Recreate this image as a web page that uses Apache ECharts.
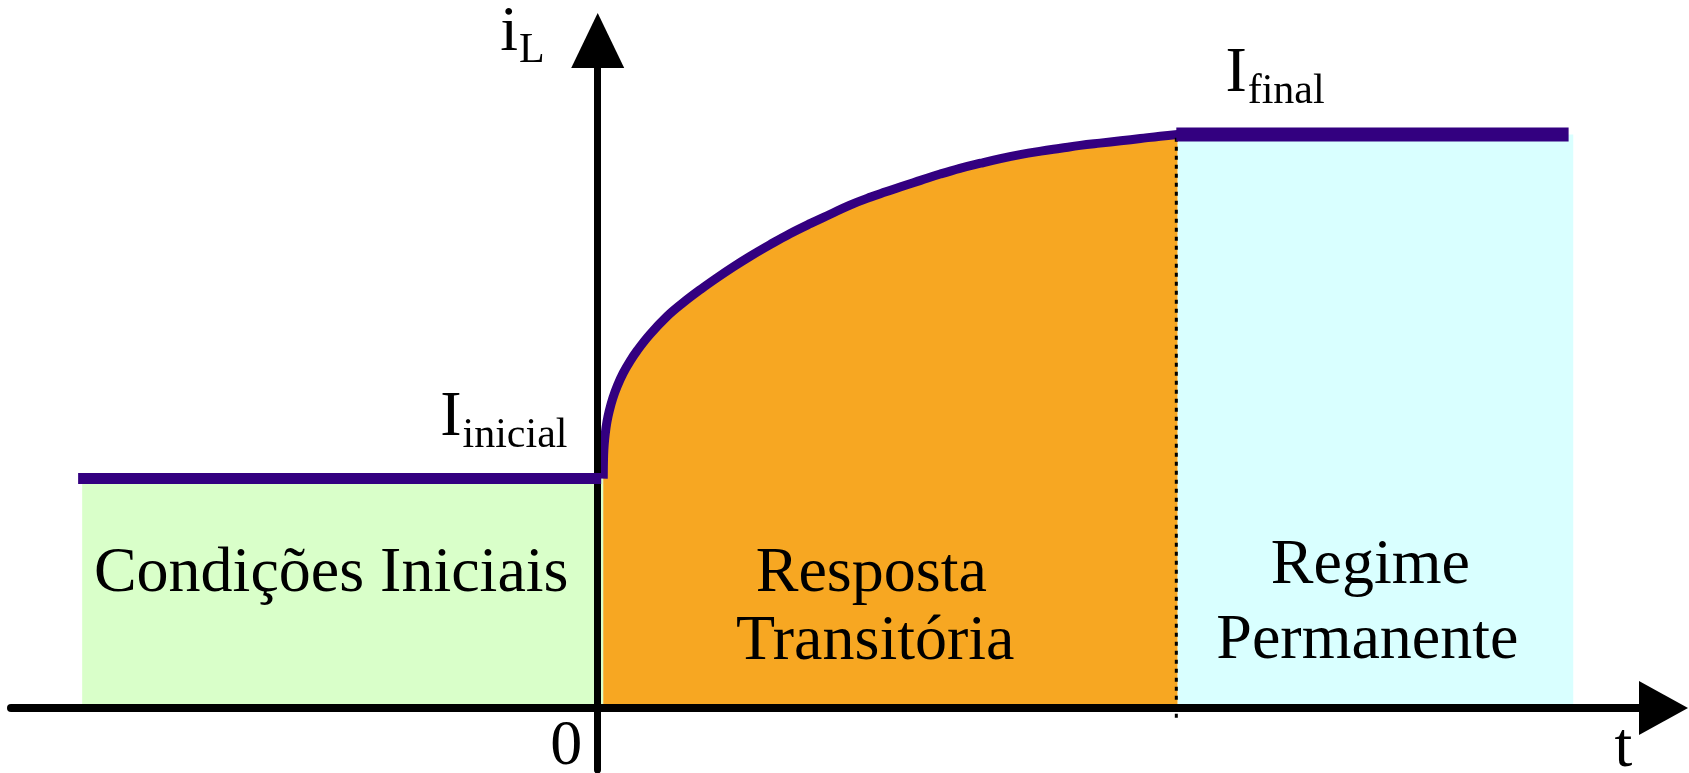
<!DOCTYPE html>
<html>
<head>
<meta charset="utf-8">
<script src="https://cdn.jsdelivr.net/npm/echarts@6/dist/echarts.min.js"></script>
<style>
html,body{margin:0;padding:0;background:#ffffff;}
#c{width:1689px;height:773px;}
</style>
</head>
<body>
<div id="c"></div>
<script>
// ---------------- data (t: time units, i: current units) ----------------
const tInitial = [-4.49, 0.03];          // initial steady line
const iInitialValue = 4;                 // I_inicial
const tFinal = [5.0, 8.39];              // final steady line
const iFinalValue = 10;                  // I_final
const tCurve = [0.048, 0.051, 0.056, 0.065, 0.080, 0.100, 0.13, 0.17, 0.22, 0.28, 0.34, 0.45, 0.60, 0.74, 0.89, 1.03, 1.17, 1.32, 1.49, 1.66, 1.84, 2.01, 2.18, 2.36, 2.49, 2.62, 2.79, 2.96, 3.13, 3.31, 3.48, 3.65, 3.83, 4.00, 4.17, 4.34, 4.52, 4.69, 4.86, 5.01];
const iCurve = [4.00, 4.41, 4.59, 4.78, 4.99, 5.18, 5.40, 5.62, 5.84, 6.05, 6.23, 6.51, 6.83, 7.07, 7.30, 7.50, 7.69, 7.88, 8.08, 8.27, 8.45, 8.61, 8.77, 8.91, 9.00, 9.09, 9.20, 9.31, 9.41, 9.50, 9.58, 9.65, 9.71, 9.76, 9.81, 9.85, 9.89, 9.93, 9.97, 10.00];
const tDivider = 5.0;                    // end of transient (dotted line)
const iDivider = [-0.17, 10.0];
const regionT0 = [-4.455, 5.01];         // green, cyan regions
const regionT1 = [0.05, 8.43];
const regionTop = [4, 10];
const tAxisRange = [-5.07, 9.21];
const iAxisRange = [-1.081, 11.639];

const labelTexts = ['Condições Iniciais', 'Resposta', 'Transitória', 'Regime', 'Permanente', '0', 't'];
const labelT = [-2.303, 2.364, 2.398, 6.677, 6.651, -0.272, 8.864];
const labelI = [1.953, 1.953, 0.767, 2.092, 0.785, -1.07, -1.09];

const symMain = ['i', 'I', 'I'];
const symSub = ['L', 'inicial', 'final'];
const symT = [-0.843, -1.361, 5.424];
const symI = [11.386, 4.673, 10.671];

// ---------------- styles ----------------
const FONT = '"Liberation Serif", "Times New Roman", "DejaVu Serif", serif';
const MAIN_SIZE = 64;
const SUB_SIZE = 42;
const SUB_SHIFT = 10;
const MID_K = 0.34;          // middle-baseline to alphabetic-baseline factor
const PURPLE = '#330080';
const ORANGE = '#F7A722';
const REGION_COLORS = ['#D9FFC9', '#D9FFFF'];

const measureCtx = document.createElement('canvas').getContext('2d');
function textWidth(s, size) {
  measureCtx.font = size + 'px ' + FONT;
  return measureCtx.measureText(s).width;
}

const chart = echarts.init(document.getElementById('c'), null, {renderer: 'canvas'});

const option = {
  animation: false,
  backgroundColor: '#ffffff',
  grid: {left: 11, right: 25.5, top: 40.5, bottom: 3, containLabel: false, outerBoundsMode: 'none'},
  xAxis: {
    type: 'value', min: tAxisRange[0], max: tAxisRange[1], z: 5,
    axisLine: {show: true, onZero: true, symbol: ['none', 'triangle'], symbolSize: [54, 49],
      lineStyle: {color: '#000', width: 8}},
    axisTick: {show: false}, axisLabel: {show: false}, splitLine: {show: false}
  },
  yAxis: {
    type: 'value', min: iAxisRange[0], max: iAxisRange[1], z: 5,
    axisLine: {show: true, onZero: true, symbol: ['none', 'triangle'], symbolSize: [53, 55],
      lineStyle: {color: '#000', width: 7}},
    axisTick: {show: false}, axisLabel: {show: false}, splitLine: {show: false}
  },
  series: [
    {
      type: 'custom', name: 'regions', silent: true, z: 1,
      data: regionT0.map((t, k) => [t, regionT1[k], regionTop[k], k]),
      renderItem: function (params, api) {
        const a = api.coord([api.value(0), 0]);
        const b = api.coord([api.value(1), api.value(2)]);
        return {type: 'rect', shape: {x: a[0], y: b[1], width: b[0] - a[0], height: a[1] - b[1]},
          style: {fill: REGION_COLORS[api.value(3)]}};
      }
    },
    {
      type: 'line', name: 'transitoria', silent: true, z: 2,
      data: tCurve.map((t, k) => [t, iCurve[k]]),
      showSymbol: false, smooth: 0.4,
      lineStyle: {color: PURPLE, width: 9, join: 'round'},
      areaStyle: {color: ORANGE, opacity: 1, origin: 'auto'}
    },
    {
      type: 'line', name: 'divisor', silent: true, z: 3,
      data: iDivider.map(v => [tDivider, v]), showSymbol: false,
      lineStyle: {color: '#000', width: 3, type: [4, 5]}
    },
    {
      type: 'line', name: 'inicial', silent: true, z: 6,
      data: tInitial.map(t => [t, iInitialValue]), showSymbol: false,
      lineStyle: {color: PURPLE, width: 11, cap: 'butt'}
    },
    {
      type: 'line', name: 'final', silent: true, z: 6,
      data: tFinal.map(t => [t, iFinalValue]), showSymbol: false,
      lineStyle: {color: PURPLE, width: 14, cap: 'butt'}
    },
    {
      type: 'custom', name: 'labels', silent: true, z: 7,
      data: labelT.map((t, k) => [t, labelI[k], k]),
      renderItem: function (params, api) {
        const p = api.coord([api.value(0), api.value(1)]);
        const k = api.value(2);
        return {type: 'text', x: p[0], y: p[1] - MID_K * MAIN_SIZE,
          style: {text: labelTexts[k], fontSize: MAIN_SIZE, fontFamily: FONT, fill: '#000',
            align: 'center', verticalAlign: 'middle'}};
      }
    },
    {
      type: 'custom', name: 'symbols', silent: true, z: 7,
      data: symT.map((t, k) => [t, symI[k], k]),
      renderItem: function (params, api) {
        const p = api.coord([api.value(0), api.value(1)]);
        const k = api.value(2);
        const w = textWidth(symMain[k], MAIN_SIZE) + 1;
        return {type: 'group', children: [
          {type: 'text', x: p[0], y: p[1] - MID_K * MAIN_SIZE,
            style: {text: symMain[k], fontSize: MAIN_SIZE, fontFamily: FONT, fill: '#000',
              align: 'left', verticalAlign: 'middle'}},
          {type: 'text', x: p[0] + w, y: p[1] + SUB_SHIFT - MID_K * SUB_SIZE,
            style: {text: symSub[k], fontSize: SUB_SIZE, fontFamily: FONT, fill: '#000',
              align: 'left', verticalAlign: 'middle'}}
        ]};
      }
    }
  ]
};
chart.setOption(option);
</script>
</body>
</html>
